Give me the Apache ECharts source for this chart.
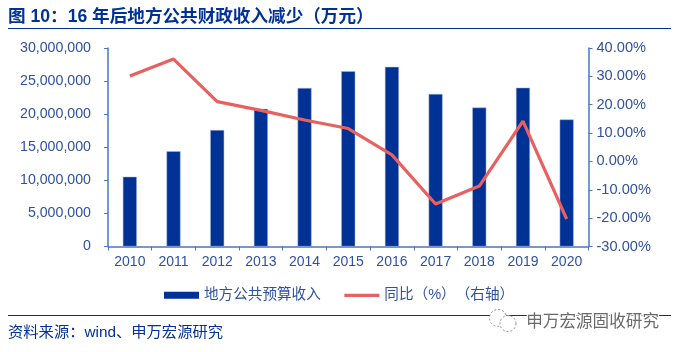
<!DOCTYPE html>
<html>
<head>
<meta charset="utf-8">
<script src="https://cdn.jsdelivr.net/npm/echarts@6/dist/echarts.min.js"></script>
<style>
* { margin: 0; padding: 0; box-sizing: border-box; }
body { background: #fff; overflow: hidden; }
#chart { width: 680px; height: 352px; }
</style>
</head>
<body>
<div id="chart"></div>
<script>
const years = ['2010', '2011', '2012', '2013', '2014', '2015', '2016', '2017', '2018', '2019', '2020']
const revenue = [10550000, 14400000, 17600000, 20800000, 23950000, 26500000, 27150000, 23050000, 21000000, 24000000, 19200000]
const yoy = [30.1, 36.1, 21.1, 18.0, 14.6, 11.6, 2.3, -15.0, -8.7, 14.2, -20.3]

const fontFamily = '"Liberation Sans", "Noto Sans CJK SC", sans-serif'
const textColor = '#2f52a0'
const axisColor = '#4a76c6'
const navy = '#003296'
const red = '#e8605f'

const chart = echarts.init(document.getElementById('chart'))
chart.setOption({
  animation: false,
  backgroundColor: '#fff',
  textStyle: { fontFamily: fontFamily },
  grid: { left: 108, right: 91.5, top: 48, bottom: 105.5 },
  legend: {
    left: 159,
    top: 283,
    itemGap: 22,
    itemWidth: 35,
    itemHeight: 7,
    textStyle: { color: textColor, fontSize: 14.6, fontFamily: fontFamily },
    data: [
      { name: '地方公共预算收入', icon: 'rect', itemStyle: { borderWidth: 0 } },
      { name: '同比（%）　（右轴）', itemStyle: { opacity: 0 }, lineStyle: { width: 3.2 } }
    ]
  },
  xAxis: {
    type: 'category',
    data: years,
    axisLine: { lineStyle: { color: axisColor, width: 1.5 } },
    axisTick: { show: true, length: 4, lineStyle: { color: axisColor } },
    axisLabel: { color: textColor, fontSize: 14, margin: 9 }
  },
  yAxis: [
    {
      type: 'value',
      min: 0,
      max: 30000000,
      interval: 5000000,
      axisLine: { show: true, lineStyle: { color: axisColor, width: 1.5 } },
      axisTick: { show: true, length: 4, lineStyle: { color: axisColor } },
      axisLabel: {
        color: textColor,
        fontSize: 14.2,
        margin: 17,
        formatter: v => v.toLocaleString('en-US')
      },
      splitLine: { show: false }
    },
    {
      type: 'value',
      min: -30,
      max: 40,
      interval: 10,
      position: 'right',
      axisLine: { show: true, lineStyle: { color: axisColor, width: 1.5 } },
      axisTick: { show: true, length: 4, lineStyle: { color: axisColor } },
      axisLabel: {
        color: textColor,
        fontSize: 14.6,
        margin: 8,
        formatter: v => v.toFixed(2) + '%'
      },
      splitLine: { show: false }
    }
  ],
  series: [
    {
      name: '地方公共预算收入',
      type: 'bar',
      data: revenue,
      barWidth: 14,
      itemStyle: { color: navy, borderColor: '#a9b8dc', borderWidth: 0.5 }
    },
    {
      name: '同比（%）　（右轴）',
      type: 'line',
      yAxisIndex: 1,
      data: yoy,
      symbol: 'none',
      smooth: false,
      lineStyle: { color: red, width: 3.2 },
      itemStyle: { color: red }
    }
  ],
  graphic: [
    {
      type: 'text', left: 8, top: 8,
      style: { text: '图 10：16 年后地方公共财政收入减少（万元）', fill: navy, font: 'bold 17.6px ' + fontFamily }
    },
    { type: 'rect', shape: { x: 8, y: 28, width: 663, height: 1 }, style: { fill: navy } },
    { type: 'rect', shape: { x: 8, y: 315, width: 663, height: 1 }, style: { fill: navy } },
    {
      type: 'text', left: 8, top: 325,
      style: { text: '资料来源：wind、申万宏源研究', fill: navy, font: '15.3px ' + fontFamily }
    },
    // 水印
    { type: 'circle', shape: { cx: 498, cy: 318, r: 8.5 }, style: { fill: '#fff', stroke: '#8c8c8c', lineWidth: 1, lineDash: [2, 2] } },
    { type: 'circle', shape: { cx: 508, cy: 323.5, r: 8 }, style: { fill: '#fff', stroke: '#8c8c8c', lineWidth: 1, lineDash: [2, 2] } },
    {
      type: 'text', left: 525, top: 313,
      style: { text: '申万宏源固收研究', fill: '#6a6a6a', stroke: '#fff', lineWidth: 2.5, font: '16.6px ' + fontFamily }
    }
  ]
})
</script>
</body>
</html>
